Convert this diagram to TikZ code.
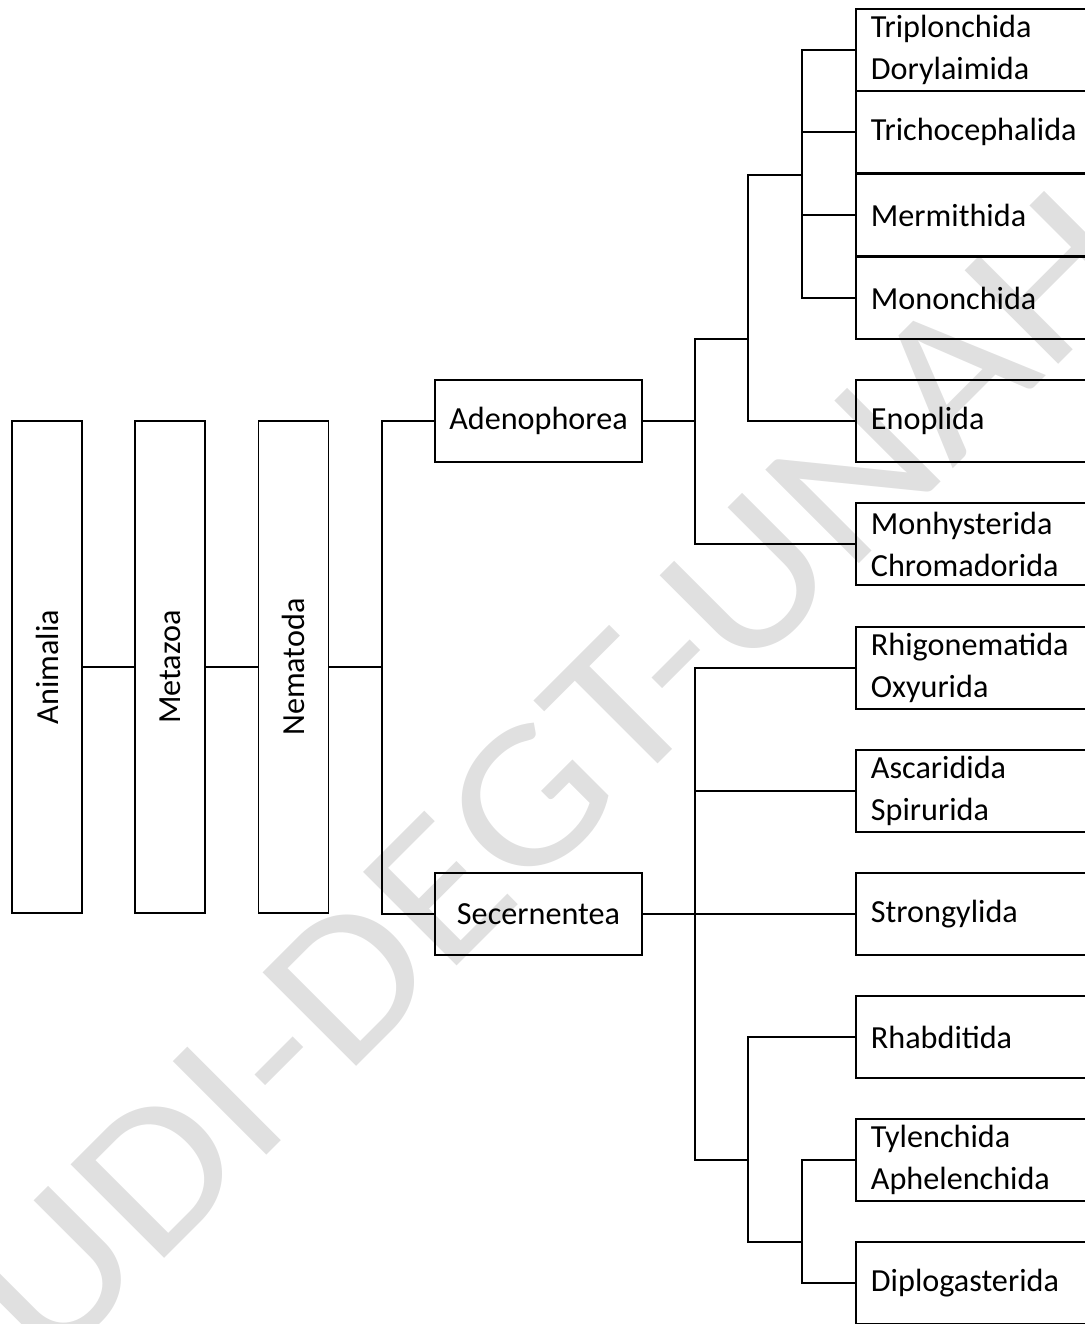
\documentclass[tikz,border=0pt]{standalone}
\usepackage{fontspec}
\setmainfont{Carlito}
\usepackage{graphicx}

\begin{document}
\begin{tikzpicture}[x=0.32pt, y=-0.32pt, line width=0.6pt, font=\fontsize{10.3}{13.4}\selectfont,
		tall/.style={draw, minimum width=22.4pt, minimum height=157.4pt, inner sep=0pt},
		klass/.style={draw, minimum width=66.2pt, minimum height=26.2pt, inner sep=0pt},
		orden/.style={draw, anchor=west, minimum height=26.2pt, text width=67.2pt, inner xsep=4.8pt, inner ysep=0pt, align=left},
		marca/.style={text=black!12, rotate=45, inner sep=0pt, font=\fontsize{66}{66}\selectfont}]
	\useasboundingbox (0,0) rectangle (1085,1324);
	\clip (0,0) rectangle (1085,1324);
	\node[marca] (wm) at (552,777) {\scalebox{1.12}[1]{UDI-DEGT-UNAH}};

	\node[tall] (animalia) at (47,667) {\rotatebox{90}{Animalia}};
	\node[tall] (metazoa) at (170,667) {\rotatebox{90}{Metazoa}};
	\node[tall] (nematoda) at (293.5,667) {\rotatebox{90}{Nematoda}};
	\node[klass] (adeno) at (538.5,421) {Adenophorea};
	\node[klass] (secer) at (538.5,914) {Secernentea};

	\node[orden] (tripl) at (855,50) {Triplonchida\\Dorylaimida};
	\node[orden] (trich) at (855,132) {Trichocephalida};
	\node[orden] (merm) at (855,215) {Mermithida};
	\node[orden] (monon) at (855,298) {Mononchida};
	\node[orden] (enop) at (855,421) {Enoplida};
	\node[orden] (monhy) at (855,544) {Monhysterida\\Chromadorida};
	\node[orden] (rhig) at (855,668) {Rhigonematida\\Oxyurida};
	\node[orden] (asca) at (855,791) {Ascaridida\\Spirurida};
	\node[orden] (stron) at (855,914) {Strongylida};
	\node[orden] (rhab) at (855,1037) {Rhabditida};
	\node[orden] (tylen) at (855,1160) {Tylenchida\\Aphelenchida};
	\node[orden] (diplo) at (855,1283) {Diplogasterida};

	\coordinate (k1) at (382,667);
	\coordinate (a1) at (695,339);
	\coordinate (a2) at (748,339);
	\coordinate (c1) at (802,175);
	\coordinate (s1) at (695,914);
	\coordinate (d1) at (748,1160);
	\coordinate (e1) at (802,1242);

	\draw (animalia) -- (metazoa);
	\draw (metazoa) -- (nematoda);
	\draw (nematoda) -- (k1);
	\draw (adeno.west) -| (k1) |- (secer.west);

	\draw (adeno.east) -- (adeno.east -| a1);
	\draw (a2) -| (a1) |- (monhy.west);
	\draw (c1) -| (a2) |- (enop.west);
	\draw (tripl.west) -| (c1) |- (monon.west);
	\draw (trich.west) -- (trich.west -| c1);
	\draw (merm.west) -- (merm.west -| c1);

	\draw (secer.east) -- (stron.west);
	\draw (rhig.west) -| (s1) |- (d1);
	\draw (asca.west) -- (asca.west -| s1);
	\draw (rhab.west) -| (d1) |- (e1);
	\draw (tylen.west) -| (e1) |- (diplo.west);
\end{tikzpicture}
\end{document}
